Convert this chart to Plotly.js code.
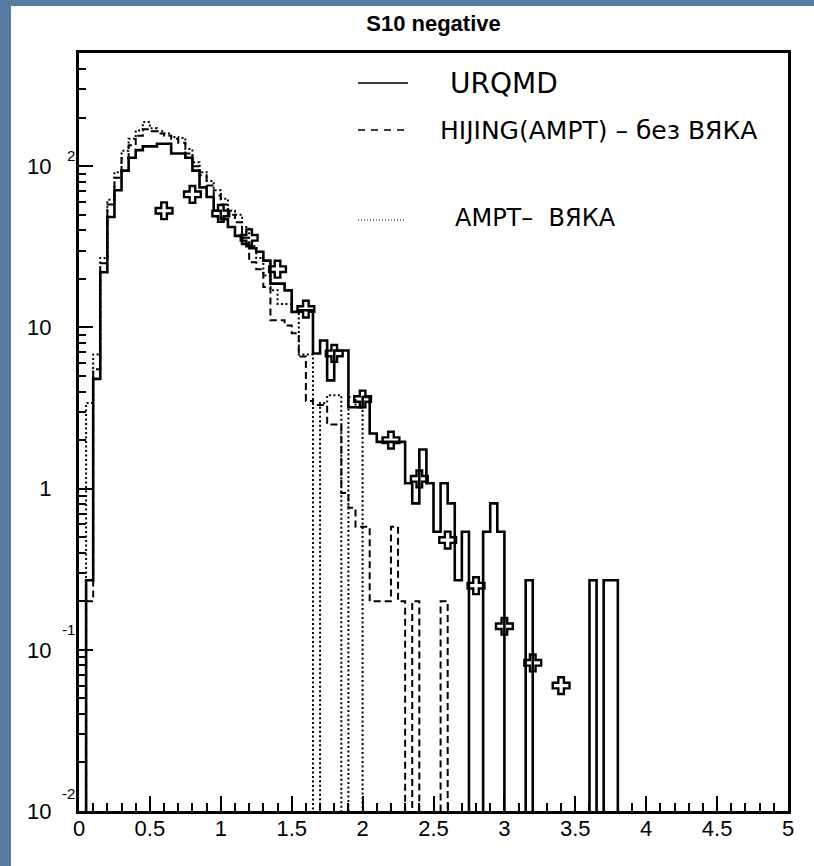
<!DOCTYPE html>
<html><head><meta charset="utf-8">
<script src="https://cdn.plot.ly/plotly-3.0.1.min.js"></script>
<style>
html,body{margin:0;padding:0;background:#587ba3;width:814px;height:866px;overflow:hidden;}
#chart{position:absolute;left:11px;top:6px;width:803px;height:860px;background:#fff;}
</style></head><body><div id="chart"></div>
<script>
// ---- data (bins of 0.05 from 0 to 5) ----
const binLow = Array.from({length: 100}, (_, i) => +(i * 0.05).toFixed(2));
const urqmd = [0,0.27,4.8,22,48.5,71,94,113,126,133,133,138,138,120,120,113,94,74,64.5,53,
  47,42,37,33,31,29.5,26,18.7,18.7,17,12.5,12.8,12.8,6.9,8.3,4.7,7.2,7.2,3.2,3.2,
  3.7,2.2,1.95,1.95,1.95,1.95,1.08,0.81,1.75,1.08,0.54,1.08,0.81,0.27,0.54,0,0,0.54,0.81,0.54,
  0,0,0,0.27,0,0,0,0,0,0,0,0,0.27,0,0.27,0.27,0,0,0,0,
  0,0,0,0,0,0,0,0,0,0,0,0,0,0,0,0,0,0,0,0];
const hijing = [0,0.2,5.5,25,58,85,112,135,155,170,165,160,155,148,140,120,100,88,76,66,
  58,50,45,36,25.4,23,17.8,11.1,11.1,10.3,9.2,6.6,3.5,3.3,3.3,2.5,2.5,0.94,0.76,0.58,
  0.58,0.2,0.2,0.2,0.58,0.2,0,0.2,0,0,0,0.2,0,0,0,0,0,0,0,0,
  0,0,0,0,0,0,0,0,0,0,0,0,0,0,0,0,0,0,0,0,
  0,0,0,0,0,0,0,0,0,0,0,0,0,0,0,0,0,0,0,0];
const ampt = [0,3.4,6.8,27,62,92,125,148,167,188,172,165,160,152,150,128,106,92,81,71,
  63,53,50,42,32,27,21,17,14,14,12.5,6.8,6.8,0,3.4,3.8,3.8,0,3.7,3.2,
  0,0,0,0,0,0,0,0,0,0,0,0,0,0,0,0,0,0,0,0,
  0,0,0,0,0,0,0,0,0,0,0,0,0,0,0,0,0,0,0,0,
  0,0,0,0,0,0,0,0,0,0,0,0,0,0,0,0,0,0,0,0];
const expX = [0.6,0.8,1.0,1.2,1.4,1.6,1.8,2.0,2.2,2.4,2.6,2.8,3.0,3.2,3.4];
const expY = [53,67,51,36,23,13,6.9,3.6,2.0,1.15,0.48,0.25,0.14,0.083,0.06];

const xTickVals = [0,0.5,1,1.5,2,2.5,3,3.5,4,4.5,5];
const xTickText = ['0','0.5','1','1.5','2','2.5','3','3.5','4','4.5','5'];
const xMinorVals = Array.from({length: 51}, (_, i) => +(i * 0.1).toFixed(1));
const yTickVals = [0.01,0.1,1,10,100];
const yTickText = ['10','10','1','10','10'];
const yExpVals = [100,0.1,0.01];
const yExpText = ['2','-1','-2'];
const yMinorVals = [];
[0.01,0.1,1,10,100].forEach(d => { for (let k = 2; k <= 9; k++) yMinorVals.push(d * k); });

const legendNames = ['URQMD','HIJING(AMPT) – без ВЯКА','AMPT–  ВЯКА'];

// ---- build step traces ----
const FLOOR = 1e-4;
const binW = 0.05;
function steps(vals) {
  const xs = [0], ys = [FLOOR];
  vals.forEach((v, i) => { xs.push(binLow[i]); ys.push(v > 0 ? v : FLOOR); });
  xs.push(binLow[binLow.length - 1] + binW); ys.push(vals[vals.length - 1] > 0 ? vals[vals.length - 1] : FLOOR);
  return {xs, ys};
}
const sU = steps(urqmd), sH = steps(hijing), sA = steps(ampt);
const traces = [
  {x: sA.xs, y: sA.ys, mode: 'lines', line: {shape: 'hv', color: '#000', width: 2, dash: '2px,2.5px'}, name: legendNames[2], showlegend: false},
  {x: sH.xs, y: sH.ys, mode: 'lines', line: {shape: 'hv', color: '#000', width: 2, dash: '7px,4px'}, name: legendNames[1], showlegend: false},
  {x: sU.xs, y: sU.ys, mode: 'lines', line: {shape: 'hv', color: '#000', width: 2.6}, name: legendNames[0], showlegend: false},
  {x: expX, y: expY, mode: 'markers', marker: {symbol: 'cross-open', size: 14, color: '#000', line: {width: 2.4, color: '#000'}}, showlegend: false}
];

// plot area in page px: left 79, right 788, top 53, bottom 811 (div is offset by 11,6)
const PL = 79, PR = 788, PT = 53, PB = 811;
const px = p => (p - PL) / (PR - PL);
const py = p => (PB - p) / (PB - PT);

const shapes = [
  {type: 'line', xref: 'paper', yref: 'paper', x0: px(358), x1: px(408), y0: py(83), y1: py(83), line: {color: '#000', width: 1.5}},
  {type: 'line', xref: 'paper', yref: 'paper', x0: px(358), x1: px(407), y0: py(130), y1: py(130), line: {color: '#000', width: 1.5, dash: '7px,6px'}},
  {type: 'line', xref: 'paper', yref: 'paper', x0: px(358), x1: px(405), y0: py(220), y1: py(220), line: {color: '#000', width: 1, dash: '1px,2px'}}
];
const annotations = [
  {xref: 'paper', yref: 'paper', x: px(448), y: py(83), xanchor: 'left', yanchor: 'middle', text: legendNames[0], showarrow: false, font: {family: 'DejaVu Sans', size: 28, color: '#000'}},
  {xref: 'paper', yref: 'paper', x: px(438), y: py(130), xanchor: 'left', yanchor: 'middle', text: legendNames[1], showarrow: false, font: {family: 'DejaVu Sans', size: 25, color: '#000'}},
  {xref: 'paper', yref: 'paper', x: px(453), y: py(218), xanchor: 'left', yanchor: 'middle', text: legendNames[2], showarrow: false, font: {family: 'DejaVu Sans', size: 24, color: '#000'}}
];
const expShift = [11, 20, 18];
yExpVals.forEach((v, i) => annotations.push({
  xref: 'paper', yref: 'y', x: px(77), y: Math.log10(v), xanchor: 'right', yanchor: 'middle',
  yshift: expShift[i], text: yExpText[i], showarrow: false,
  font: {family: 'Liberation Sans, Arial', size: 15, color: '#000'}
}));

const axisCommon = {showline: true, linewidth: 3, linecolor: '#000', mirror: true, showgrid: false, zeroline: false,
  ticks: 'inside', tickcolor: '#000', tickwidth: 2, tickfont: {family: 'Liberation Sans, Arial', size: 22, color: '#000'}};

const layout = {
  width: 803, height: 860,
  margin: {l: PL - 11, r: 803 - (PR - 11), t: PT - 6, b: 860 - (PB - 6), pad: 0},
  paper_bgcolor: '#ffffff', plot_bgcolor: '#ffffff',
  title: {text: 'S10 negative', font: {family: 'Liberation Sans, Arial', size: 22, color: '#000', weight: 'bold'},
          x: 0.5 , xref: 'paper', y: 1 - 17 / 860, yanchor: 'middle'},
  xaxis: Object.assign({}, axisCommon, {range: [0, 5], tickmode: 'array', tickvals: xTickVals, ticktext: xTickText, ticklen: 15,
    ticklabelstandoff: -4,
    minor: {tickmode: 'array', tickvals: xMinorVals, ticks: 'inside', ticklen: 8, tickwidth: 2, tickcolor: '#000'}}),
  yaxis: Object.assign({}, axisCommon, {type: 'log', range: [-2, 2.703], tickmode: 'array', tickvals: yTickVals, ticktext: yTickText, ticklen: 14,
    ticklabelstandoff: 20,
    minor: {tickmode: 'array', tickvals: yMinorVals, ticks: 'inside', ticklen: 7, tickwidth: 2, tickcolor: '#000'}}),
  shapes: shapes, annotations: annotations, showlegend: false
};
Plotly.newPlot('chart', traces, layout, {displayModeBar: false, staticPlot: true});
</script></body></html>
